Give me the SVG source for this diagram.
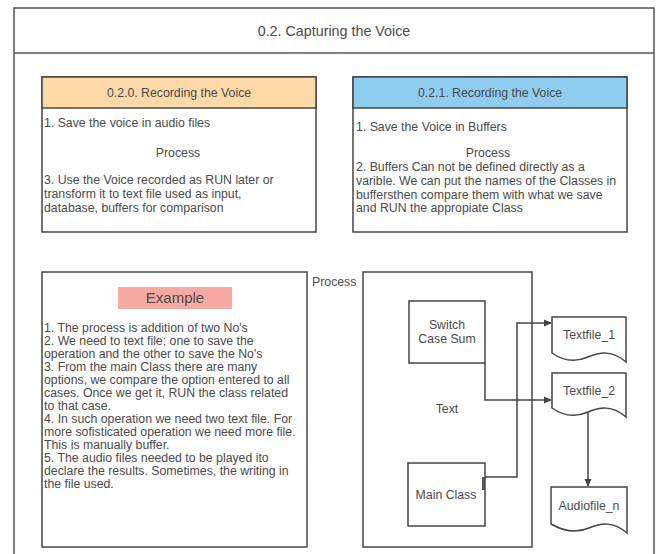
<svg xmlns="http://www.w3.org/2000/svg" width="661" height="554" viewBox="0 0 661 554">
<defs>
<marker id="arr" markerWidth="8" markerHeight="8" refX="7" refY="4" orient="auto" markerUnits="userSpaceOnUse">
<path d="M0,0.5 L8,4 L0,7.5 Z" fill="#444"/>
</marker>
<style>
text{font-family:"Liberation Sans",Arial,sans-serif;fill:#4a4a4a}
.t{font-size:14.3px}
.ex{font-size:15px}
.h{font-size:12.3px}
.b{font-size:12.3px}
.box{fill:#fff;stroke:#444;stroke-width:1.5}
.frame{fill:none;stroke:#555;stroke-width:1.5}
.c{fill:none;stroke:#444;stroke-width:1.5}
.m{text-anchor:middle}
</style>
</defs>
<rect width="661" height="554" fill="#fff"/>
<g id="frame">
<path class="frame" d="M14,560 L14,8 L654,8 L654,560"/>
<line class="frame" x1="14" y1="53" x2="654" y2="53"/>
<text class="t m" x="334" y="36">0.2. Capturing the Voice</text>
</g>
<g id="rec020">
<rect class="box" x="42" y="77" width="274" height="155"/>
<rect x="42" y="77" width="274" height="31" fill="#fdd9a8" stroke="#444" stroke-width="1.5"/>
<text class="h m" x="179" y="97">0.2.0. Recording the Voice</text>
<text class="b" x="44" y="127">1. Save the voice in audio files</text>
<text class="b m" x="178" y="157">Process</text>
<text class="b" x="44" y="184">3. Use the Voice recorded as RUN later or</text>
<text class="b" x="44" y="198">transform it to text file used as input,</text>
<text class="b" x="44" y="212">database, buffers for comparison</text>
</g>
<g id="rec021">
<rect class="box" x="353" y="77" width="274" height="155"/>
<rect x="353" y="77" width="274" height="31" fill="#8fcdf0" stroke="#444" stroke-width="1.5"/>
<text class="h m" x="490" y="97">0.2.1. Recording the Voice</text>
<text class="b" x="356" y="131">1. Save the Voice in Buffers</text>
<text class="b m" x="488" y="157">Process</text>
<text class="b" x="356" y="171">2. Buffers Can not be defined directly as a</text>
<text class="b" x="356" y="185">varible. We can put the names of the Classes in</text>
<text class="b" x="356" y="199">buffersthen compare them with what we save</text>
<text class="b" x="356" y="212">and RUN the appropiate Class</text>
</g>
<g id="example">
<rect class="box" x="42" y="272" width="265" height="275"/>
<rect x="118" y="287" width="114" height="22" fill="#f8aaa2"/>
<text class="ex m" x="175" y="303">Example</text>
<text class="b" x="44" y="332">1. The process is addition of two No's</text>
<text class="b" x="44" y="345">2. We need to text file; one to save the</text>
<text class="b" x="44" y="358">operation and the other to save the No's</text>
<text class="b" x="44" y="371">3. From the main Class there are many</text>
<text class="b" x="44" y="384">options, we compare the option entered to all</text>
<text class="b" x="44" y="397">cases. Once we get it, RUN the class related</text>
<text class="b" x="44" y="410">to that case.</text>
<text class="b" x="44" y="423">4. In such operation we need two text file. For</text>
<text class="b" x="44" y="436">more sofisticated operation we need more file.</text>
<text class="b" x="44" y="449">This is manually buffer.</text>
<text class="b" x="44" y="462">5. The audio files needed to be played ito</text>
<text class="b" x="44" y="475">declare the results. Sometimes, the writing in</text>
<text class="b" x="44" y="488">the file used.</text>
</g>
<g id="process-label">
<text class="b" x="312" y="286">Process</text>
</g>
<g id="process">
<rect class="box" x="363" y="272" width="169" height="275"/>
<text class="b m" x="447" y="413">Text</text>
</g>
<g id="switch">
<rect class="box" x="409" y="301" width="76" height="62"/>
<text class="b m" x="447" y="329">Switch</text>
<text class="b m" x="447" y="343">Case Sum</text>
</g>
<g id="mainclass">
<rect class="box" x="408" y="463" width="77" height="63"/>
<text class="b m" x="446" y="499">Main Class</text>
<rect x="482" y="477" width="3" height="13" fill="#555"/>
</g>
<g id="textfile1">
<path class="box" d="M552,317 L626,317 L626,362 C612,350 600,352 588,357 C574,363 562,360 552,353 Z"/>
<text class="b m" x="589" y="339">Textfile_1</text>
</g>
<g id="textfile2">
<path class="box" d="M552,373 L626,373 L626,417 C612,405 600,407 588,412 C574,418 562,415 552,408 Z"/>
<text class="b m" x="589" y="395">Textfile_2</text>
</g>
<g id="audiofile">
<path class="box" d="M551,487 L627,487 L627,533 C613,521 601,523 589,528 C575,534 563,531 551,524 Z"/>
<text class="b m" x="589" y="510">Audiofile_n</text>
</g>
<g id="connectors">
<path class="c" d="M485,477 L517,477 L517,323 L551,323" marker-end="url(#arr)"/>
<path class="c" d="M485,363 L485,400 L551,400" marker-end="url(#arr)"/>
<path class="c" d="M588,412 L588,486" marker-end="url(#arr)"/>
</g>
</svg>
